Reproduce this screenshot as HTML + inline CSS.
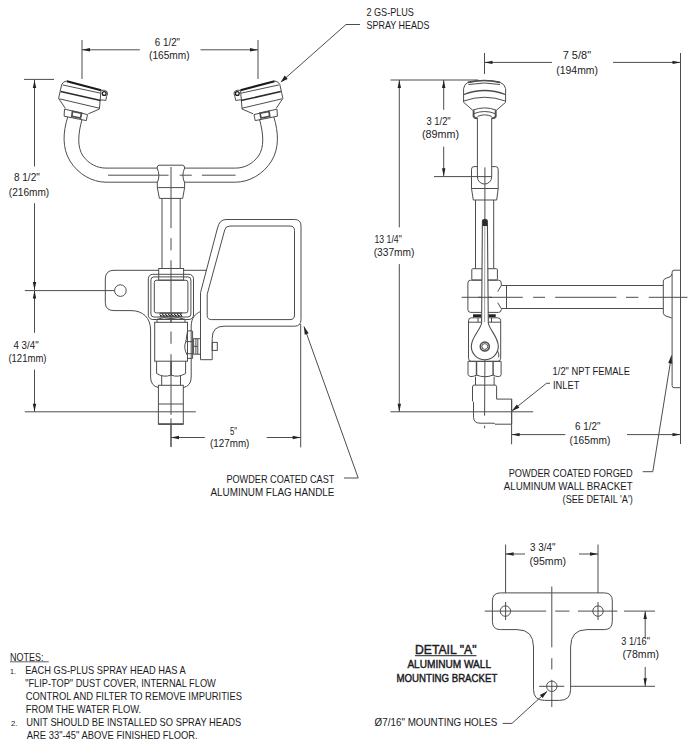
<!DOCTYPE html>
<html><head><meta charset="utf-8"><style>
html,body{margin:0;padding:0;background:#fff;}
svg{display:block;font-family:"Liberation Sans",sans-serif;}
</style></head><body>
<svg width="694" height="747" viewBox="0 0 694 747">
<path d="M82,40 L82,79" fill="none" stroke="#4d4d4d" stroke-width="1.0" />
<path d="M258,40 L258,79" fill="none" stroke="#4d4d4d" stroke-width="1.0" />
<path d="M82,49.8 L139.8,49.8" fill="none" stroke="#4d4d4d" stroke-width="1.0" />
<path d="M200.5,49.8 L258,49.8" fill="none" stroke="#4d4d4d" stroke-width="1.0" />
<polygon points="82,49.8 90.00,48.10 90.00,51.50" fill="#222"/>
<polygon points="258,49.8 250.00,51.50 250.00,48.10" fill="#222"/>
<text x="154.8" y="45.6" textLength="25.3" lengthAdjust="spacingAndGlyphs" font-size="10.5" font-weight="normal" fill="#1b1b24">6 1/2&quot;</text>
<text x="149" y="59.4" textLength="40.7" lengthAdjust="spacingAndGlyphs" font-size="10.5" font-weight="normal" fill="#1b1b24">(165mm)</text>
<path d="M281,82 L346,24.5 L360,24.5" fill="none" stroke="#4d4d4d" stroke-width="1.0" />
<polygon points="280.6,82.2 284.76,75.58 287.68,78.88" fill="#222"/>
<text x="366.5" y="15.6" textLength="47.4" lengthAdjust="spacingAndGlyphs" font-size="10.5" font-weight="normal" fill="#1b1b24">2 GS-PLUS</text>
<text x="366.5" y="28.5" textLength="63.0" lengthAdjust="spacingAndGlyphs" font-size="10.5" font-weight="normal" fill="#1b1b24">SPRAY HEADS</text>
<path d="M24,79.4 L54,79.4" fill="none" stroke="#4d4d4d" stroke-width="1.0" />
<path d="M34.5,80 L34.5,166.5" fill="none" stroke="#4d4d4d" stroke-width="1.0" />
<path d="M34.5,203.2 L34.5,290" fill="none" stroke="#4d4d4d" stroke-width="1.0" />
<polygon points="34.5,80 36.20,88.00 32.80,88.00" fill="#222"/>
<polygon points="34.5,290 32.80,282.00 36.20,282.00" fill="#222"/>
<text x="13.9" y="180.5" textLength="25.9" lengthAdjust="spacingAndGlyphs" font-size="10.5" font-weight="normal" fill="#1b1b24">8 1/2&quot;</text>
<text x="8.8" y="195.6" textLength="40.4" lengthAdjust="spacingAndGlyphs" font-size="10.5" font-weight="normal" fill="#1b1b24">(216mm)</text>
<path d="M24.8,290.6 L114.6,290.6" fill="none" stroke="#4d4d4d" stroke-width="1.0" />
<path d="M34.5,290.6 L34.5,332.8" fill="none" stroke="#4d4d4d" stroke-width="1.0" />
<path d="M34.5,369.6 L34.5,411.8" fill="none" stroke="#4d4d4d" stroke-width="1.0" />
<polygon points="34.5,290.6 36.20,298.60 32.80,298.60" fill="#222"/>
<polygon points="34.5,411.8 32.80,403.80 36.20,403.80" fill="#222"/>
<path d="M24.8,411.8 L195.8,411.8" fill="none" stroke="#4d4d4d" stroke-width="1.0" />
<text x="13.5" y="349" textLength="25.1" lengthAdjust="spacingAndGlyphs" font-size="10.5" font-weight="normal" fill="#1b1b24">4 3/4&quot;</text>
<text x="8.4" y="362.4" textLength="38.1" lengthAdjust="spacingAndGlyphs" font-size="10.5" font-weight="normal" fill="#1b1b24">(121mm)</text>
<path d="M171,424 L171,446.7" fill="none" stroke="#4d4d4d" stroke-width="1.0" />
<path d="M300.7,324 L300.7,447.4" fill="none" stroke="#4d4d4d" stroke-width="1.0" />
<path d="M171,437.5 L204.8,437.5" fill="none" stroke="#4d4d4d" stroke-width="1.0" />
<path d="M266.7,437.5 L300.7,437.5" fill="none" stroke="#4d4d4d" stroke-width="1.0" />
<polygon points="171,437.5 179.00,435.80 179.00,439.20" fill="#222"/>
<polygon points="300.7,437.5 292.70,439.20 292.70,435.80" fill="#222"/>
<text x="230.1" y="435" textLength="7.0" lengthAdjust="spacingAndGlyphs" font-size="10.5" font-weight="normal" fill="#1b1b24">5&quot;</text>
<text x="210" y="446.7" textLength="39.4" lengthAdjust="spacingAndGlyphs" font-size="10.5" font-weight="normal" fill="#1b1b24">(127mm)</text>
<path d="M304,326.5 L358.2,478 L344,478" fill="none" stroke="#4d4d4d" stroke-width="1.0" />
<polygon points="304,326.5 308.67,333.33 304.72,334.74" fill="#222"/>
<text x="226.4" y="482.7" textLength="108.0" lengthAdjust="spacingAndGlyphs" font-size="10.5" font-weight="normal" fill="#1b1b24">POWDER COATED CAST</text>
<text x="210.5" y="496" textLength="123.9" lengthAdjust="spacingAndGlyphs" font-size="10.5" font-weight="normal" fill="#1b1b24">ALUMINUM FLAG HANDLE</text>
<g><path d="M66.9,81.2 L101,90.3" fill="none" stroke="#1a1a1a" stroke-width="2.1"/><path d="M66.9,80.9 Q63,81.5 61.7,84.5 L58.6,98.4 L65.3,108.3" fill="none" stroke="#4d4d4d" stroke-width="1.0"/><path d="M101,90.1 L99.4,109.1 L88.3,113.8" fill="none" stroke="#4d4d4d" stroke-width="1.0"/><path d="M62.5,84.9 L100.6,93.2" fill="none" stroke="#4d4d4d" stroke-width="1.0"/><path d="M60.7,91.5 L100.6,100.6" fill="none" stroke="#2a2a2a" stroke-width="1.5"/><path d="M59.4,98.8 L99.8,108.3" fill="none" stroke="#4d4d4d" stroke-width="1.0"/><path d="M64.5,109.1 L87.5,114.6 L86.3,120.6 L64.1,116.2 Z" fill="none" stroke="#4d4d4d" stroke-width="1.0"/><path d="M72.5,111.3 L81.5,113.2 L80.5,118 L71.8,116.3 Z" fill="none" stroke="#4d4d4d" stroke-width="1.7"/><path d="M100.8,90.3 Q105,89.6 107,91.6 Q108.2,93.8 106.6,96.5 L105.8,100.4 L100.8,99.8" fill="none" stroke="#4d4d4d" stroke-width="1.0"/><circle cx="104.2" cy="93.5" r="1.9" fill="none" stroke="#1a1a1a" stroke-width="1.3"/><path d="M67.7,117 C63,132 62,148 70,161 C78,174 92,182.2 106,182.2 L157.5,182.2" fill="none" stroke="#4d4d4d" stroke-width="1.0"/><path d="M82,119.4 C78,134 77,147 83,156 C89,164 97,168.1 106,168.1 L157.5,168.1" fill="none" stroke="#4d4d4d" stroke-width="1.0"/></g>
<g transform="translate(341.5,0) scale(-1,1)"><path d="M66.9,81.2 L101,90.3" fill="none" stroke="#1a1a1a" stroke-width="2.1"/><path d="M66.9,80.9 Q63,81.5 61.7,84.5 L58.6,98.4 L65.3,108.3" fill="none" stroke="#4d4d4d" stroke-width="1.0"/><path d="M101,90.1 L99.4,109.1 L88.3,113.8" fill="none" stroke="#4d4d4d" stroke-width="1.0"/><path d="M62.5,84.9 L100.6,93.2" fill="none" stroke="#4d4d4d" stroke-width="1.0"/><path d="M60.7,91.5 L100.6,100.6" fill="none" stroke="#2a2a2a" stroke-width="1.5"/><path d="M59.4,98.8 L99.8,108.3" fill="none" stroke="#4d4d4d" stroke-width="1.0"/><path d="M64.5,109.1 L87.5,114.6 L86.3,120.6 L64.1,116.2 Z" fill="none" stroke="#4d4d4d" stroke-width="1.0"/><path d="M72.5,111.3 L81.5,113.2 L80.5,118 L71.8,116.3 Z" fill="none" stroke="#4d4d4d" stroke-width="1.7"/><path d="M100.8,90.3 Q105,89.6 107,91.6 Q108.2,93.8 106.6,96.5 L105.8,100.4 L100.8,99.8" fill="none" stroke="#4d4d4d" stroke-width="1.0"/><circle cx="104.2" cy="93.5" r="1.9" fill="none" stroke="#1a1a1a" stroke-width="1.3"/><path d="M67.7,117 C63,132 62,148 70,161 C78,174 92,182.2 106,182.2 L157.5,182.2" fill="none" stroke="#4d4d4d" stroke-width="1.0"/><path d="M82,119.4 C78,134 77,147 83,156 C89,164 97,168.1 106,168.1 L157.5,168.1" fill="none" stroke="#4d4d4d" stroke-width="1.0"/></g>
<path d="M159,165.2 H182.8 Q184.6,165.2 184.6,168.1 Q181.2,175.3 184.6,182.7 V187.6 L182.7,198.4 H159.4 L157.3,187.6 V182.7 Q160.6,175.3 157.1,168.1 Q157.1,165.2 159,165.2 Z" fill="none" stroke="#4d4d4d" stroke-width="1.0" />
<path d="M157.3,187.6 L184.6,187.6" fill="none" stroke="#4d4d4d" stroke-width="1.0" />
<path d="M108,175.2 L168.6,175.2" fill="none" stroke="#4d4d4d" stroke-width="1.0" />
<path d="M179.7,175.2 L191.8,175.2" fill="none" stroke="#4d4d4d" stroke-width="1.0" />
<path d="M201.9,175.2 L235.6,175.2" fill="none" stroke="#4d4d4d" stroke-width="1.0" />
<path d="M162,198.4 L162,268.5" fill="none" stroke="#4d4d4d" stroke-width="1.0" />
<path d="M180.2,198.4 L180.2,268.5" fill="none" stroke="#4d4d4d" stroke-width="1.0" />
<path d="M171,167 L171,228.2" fill="none" stroke="#4d4d4d" stroke-width="1.0" />
<path d="M171,238.2 L171,250.3" fill="none" stroke="#4d4d4d" stroke-width="1.0" />
<path d="M171,260.3 L171,322.5" fill="none" stroke="#4d4d4d" stroke-width="1.0" />
<path d="M171,331.5 L171,343.8" fill="none" stroke="#4d4d4d" stroke-width="1.0" />
<path d="M171,354.2 L171,414.8" fill="none" stroke="#4d4d4d" stroke-width="1.0" />
<path d="M171,418.3 L171,447.1" fill="none" stroke="#4d4d4d" stroke-width="1.0" />
<rect x="158.7" y="268.5" width="24.9" height="11.6" rx="0" fill="none" stroke="#4d4d4d" stroke-width="1.0"/>
<path d="M114,270.3 L158.7,270.3" fill="none" stroke="#4d4d4d" stroke-width="1.0" />
<path d="M183.6,270.3 L207,270.3" fill="none" stroke="#4d4d4d" stroke-width="1.0" />
<path d="M114,270.3 Q105.3,270.3 105.3,279 V302.5 Q105.3,310.6 114,310.6 H131 C143,310.6 150.6,318 150.6,330 V377 Q150.6,386 158.6,387.6 M183.3,387.6 Q191.2,386 191.2,377 V326 C191.4,318 195,314 200.5,311.5" fill="none" stroke="#4d4d4d" stroke-width="1.0" />
<circle cx="120.4" cy="290.6" r="5.8" fill="none" stroke="#4d4d4d" stroke-width="1.0"/>
<rect x="148.3" y="274.3" width="45.2" height="45.2" rx="4.5" fill="none" stroke="#4d4d4d" stroke-width="1.0"/>
<rect x="150.9" y="276.9" width="40.0" height="40.1" rx="3" fill="none" stroke="#4d4d4d" stroke-width="1.0"/>
<rect x="154.3" y="280.3" width="33.6" height="32.6" rx="2" fill="none" stroke="#4d4d4d" stroke-width="1.0"/>
<path d="M159.7,313.2 H182.2" fill="none" stroke="#4d4d4d" stroke-width="1.3" />
<path d="M159.7,314.2 L161.2,316.6 L162.7,314.2 L164.2,316.6 L165.7,314.2 L167.2,316.6 L168.7,314.2 L170.2,316.6 L171.7,314.2 L173.2,316.6 L174.7,314.2 L176.2,316.6 L177.7,314.2 L179.2,316.6 L180.7,314.2 L182.2,316.6" fill="none" stroke="#222" stroke-width="1.0" />
<path d="M159.7,316.6 H182.2" fill="none" stroke="#4d4d4d" stroke-width="0.9" />
<path d="M157,322.3 V319.3 Q163.5,316.6 171,318.6 V322.3 M171,318.6 Q178.5,316.6 185,319.3 V322.3" fill="none" stroke="#4d4d4d" stroke-width="1.0" />
<rect x="154.7" y="322.3" width="32.8" height="38.9" rx="0" fill="none" stroke="#4d4d4d" stroke-width="1.0"/>
<path d="M156.6,361.2 V373.5 Q164,378 171,375 Q178,378 185.6,373.5 V361.2" fill="none" stroke="#4d4d4d" stroke-width="1.0" />
<path d="M171.1,361.2 L171.1,375.5" fill="none" stroke="#4d4d4d" stroke-width="1.5" />
<path d="M161.7,376 L161.7,385.3" fill="none" stroke="#4d4d4d" stroke-width="1.0" />
<path d="M180.5,376 L180.5,385.3" fill="none" stroke="#4d4d4d" stroke-width="1.0" />
<rect x="158.4" y="385.3" width="24.9" height="38.8" rx="0" fill="none" stroke="#4d4d4d" stroke-width="1.0"/>
<path d="M158.4,424.1 L183.3,424.1" fill="none" stroke="#4d4d4d" stroke-width="1.5" />
<path d="M158.4,404 L183.3,404" fill="none" stroke="#4d4d4d" stroke-width="1.0" />
<path d="M187.5,331.2 Q190,330.2 192.6,331.2 V358.4 H187.5 V355.5 Q183,348 185.8,341.6 L187.5,331.2" fill="none" stroke="#4d4d4d" stroke-width="1.0" />
<path d="M185.8,341.6 L192.6,341.6" fill="none" stroke="#4d4d4d" stroke-width="1.0" />
<path d="M186.5,353.7 L192.6,353.7" fill="none" stroke="#4d4d4d" stroke-width="1.0" />
<rect x="193.6" y="338.7" width="6.9" height="15.5" rx="0" fill="none" stroke="#4d4d4d" stroke-width="1.0"/>
<path d="M195.9,338.7 L195.9,354.2" fill="none" stroke="#4d4d4d" stroke-width="1.0" />
<path d="M197.8,338.7 L197.8,354.2" fill="none" stroke="#4d4d4d" stroke-width="1.0" />
<path d="M193.6,346.3 L197.8,346.3" fill="none" stroke="#4d4d4d" stroke-width="1.0" />
<path d="M226,219.5 H294.5 Q301,219.5 301,226 V319.5 Q301,326.2 294.5,326.2 H224 Q212.2,326.2 212.2,338.3 V359.7 H200.5 V292.7 L217.5,228 Q219.5,219.5 226,219.5 Z" fill="none" stroke="#4d4d4d" stroke-width="1.0" />
<path d="M230,226 H290 Q294.5,226 294.5,230.5 V315 Q294.5,319.6 290,319.6 H211.5 Q207.2,319.6 207.2,315.5 V294.3 L224.7,230 Q225.5,226 230,226 Z" fill="none" stroke="#4d4d4d" stroke-width="1.0" />
<rect x="212.2" y="342.4" width="5.1" height="8.0" rx="0" fill="none" stroke="#4d4d4d" stroke-width="1.0"/>
<path d="M484.5,53 L484.5,74" fill="none" stroke="#4d4d4d" stroke-width="1.0" />
<path d="M680.5,53 L680.5,444" fill="none" stroke="#4d4d4d" stroke-width="1.0" />
<path d="M484.5,62.4 L552,62.4" fill="none" stroke="#4d4d4d" stroke-width="1.0" />
<path d="M613,62.4 L680.5,62.4" fill="none" stroke="#4d4d4d" stroke-width="1.0" />
<polygon points="484.5,62.4 492.50,60.70 492.50,64.10" fill="#222"/>
<polygon points="680.5,62.4 672.50,64.10 672.50,60.70" fill="#222"/>
<text x="562.7" y="58.8" textLength="28.4" lengthAdjust="spacingAndGlyphs" font-size="10.5" font-weight="normal" fill="#1b1b24">7 5/8&quot;</text>
<text x="556.3" y="73.5" textLength="41.7" lengthAdjust="spacingAndGlyphs" font-size="10.5" font-weight="normal" fill="#1b1b24">(194mm)</text>
<path d="M390.5,80 L478.3,80" fill="none" stroke="#4d4d4d" stroke-width="1.0" />
<path d="M390.5,411.8 L533.2,411.8" fill="none" stroke="#4d4d4d" stroke-width="1.0" />
<path d="M399.3,80 L399.3,227.4" fill="none" stroke="#4d4d4d" stroke-width="1.0" />
<path d="M399.3,264.1 L399.3,411.8" fill="none" stroke="#4d4d4d" stroke-width="1.0" />
<polygon points="399.3,80 401.00,88.00 397.60,88.00" fill="#222"/>
<polygon points="399.3,411.8 397.60,403.80 401.00,403.80" fill="#222"/>
<text x="374.4" y="243.2" textLength="27.4" lengthAdjust="spacingAndGlyphs" font-size="10.5" font-weight="normal" fill="#1b1b24">13 1/4&quot;</text>
<text x="373.7" y="256.2" textLength="40.8" lengthAdjust="spacingAndGlyphs" font-size="10.5" font-weight="normal" fill="#1b1b24">(337mm)</text>
<path d="M443.7,80 L443.7,109.8" fill="none" stroke="#4d4d4d" stroke-width="1.0" />
<path d="M443.7,146.7 L443.7,176.3" fill="none" stroke="#4d4d4d" stroke-width="1.0" />
<polygon points="443.7,80 445.40,88.00 442.00,88.00" fill="#222"/>
<polygon points="443.7,176.3 442.00,168.30 445.40,168.30" fill="#222"/>
<path d="M434,176.6 L491.7,176.6" fill="none" stroke="#4d4d4d" stroke-width="1.0" />
<text x="426.5" y="124.8" textLength="24.2" lengthAdjust="spacingAndGlyphs" font-size="10.5" font-weight="normal" fill="#1b1b24">3 1/2&quot;</text>
<text x="421.9" y="138" textLength="37.1" lengthAdjust="spacingAndGlyphs" font-size="10.5" font-weight="normal" fill="#1b1b24">(89mm)</text>
<path d="M511.6,398.9 L511.6,444.3" fill="none" stroke="#4d4d4d" stroke-width="1.0" />
<path d="M511.6,434.6 L565.3,434.6" fill="none" stroke="#4d4d4d" stroke-width="1.0" />
<path d="M627,434.6 L680.5,434.6" fill="none" stroke="#4d4d4d" stroke-width="1.0" />
<polygon points="511.6,434.6 519.60,432.90 519.60,436.30" fill="#222"/>
<polygon points="680.5,434.6 672.50,436.30 672.50,432.90" fill="#222"/>
<text x="575.1" y="429.9" textLength="25.3" lengthAdjust="spacingAndGlyphs" font-size="10.5" font-weight="normal" fill="#1b1b24">6 1/2&quot;</text>
<text x="569.5" y="444" textLength="40.8" lengthAdjust="spacingAndGlyphs" font-size="10.5" font-weight="normal" fill="#1b1b24">(165mm)</text>
<path d="M511.8,411 L546.5,383.3 L550,383.3" fill="none" stroke="#4d4d4d" stroke-width="1.0" />
<polygon points="511.8,411 516.86,404.45 519.42,407.78" fill="#222"/>
<text x="552.6" y="374.5" textLength="77.4" lengthAdjust="spacingAndGlyphs" font-size="10.5" font-weight="normal" fill="#1b1b24">1/2&quot; NPT FEMALE</text>
<text x="553" y="388.6" textLength="26.3" lengthAdjust="spacingAndGlyphs" font-size="10.5" font-weight="normal" fill="#1b1b24">INLET</text>
<path d="M671.5,355.4 L652.8,471.7 L642.7,471.7" fill="none" stroke="#4d4d4d" stroke-width="1.0" />
<polygon points="671.5,355.4 672.30,363.63 668.16,362.97" fill="#222"/>
<text x="508.7" y="476.9" textLength="124.0" lengthAdjust="spacingAndGlyphs" font-size="10.5" font-weight="normal" fill="#1b1b24">POWDER COATED FORGED</text>
<text x="503.8" y="489.6" textLength="128.9" lengthAdjust="spacingAndGlyphs" font-size="10.5" font-weight="normal" fill="#1b1b24">ALUMINUM WALL BRACKET</text>
<text x="562.6" y="502.8" textLength="70.1" lengthAdjust="spacingAndGlyphs" font-size="10.5" font-weight="normal" fill="#1b1b24">(SEE DETAIL 'A')</text>
<path d="M468,82.4 Q484.5,78.6 500,82.4 Q504.8,84 505.6,88.5 V102.3 L496.5,110.2 Q484.6,105.6 472.7,110.2 L463.6,102.3 V88.5 Q464.4,84 468,82.4 Z" fill="none" stroke="#4d4d4d" stroke-width="1.0" />
<path d="M468,82.4 Q484.5,78.6 500,82.4" fill="none" stroke="#4d4d4d" stroke-width="1.6" />
<path d="M468.5,84.5 Q484.5,81.5 500,84.5" fill="none" stroke="#4d4d4d" stroke-width="1.0" />
<path d="M463.8,94.5 Q484.5,86.5 505.4,94.5" fill="none" stroke="#4d4d4d" stroke-width="1.3" />
<path d="M463.8,101 Q484.5,93.5 505.4,101" fill="none" stroke="#4d4d4d" stroke-width="1.0" />
<path d="M473.6,110.2 V116.5 Q474.5,118.3 477.4,118.3 M491.8,118.3 Q494.8,118.3 495.7,116.5 V110.2" fill="none" stroke="#4d4d4d" stroke-width="1.9" />
<path d="M474,113.6 Q484.6,109.4 495.2,113.6" fill="none" stroke="#4d4d4d" stroke-width="1.0" />
<path d="M477.4,116.5 Q484.6,113.2 491.8,116.5" fill="none" stroke="#4d4d4d" stroke-width="1.0" />
<path d="M477.4,117.8 V176.9 A7.15,7.15 0 0 0 491.7,176.9 V117.8" fill="none" stroke="#4d4d4d" stroke-width="1.0" />
<path d="M484.9,167.4 L484.9,219" fill="none" stroke="#4d4d4d" stroke-width="1.0" />
<path d="M484.9,322 L484.9,333" fill="none" stroke="#4d4d4d" stroke-width="1.0" />
<path d="M484.9,360 L484.6,415.7" fill="none" stroke="#4d4d4d" stroke-width="1.0" />
<path d="M484.6,425.7 L484.6,428.2" fill="none" stroke="#4d4d4d" stroke-width="1.0" />
<path d="M477.4,166.6 H474 Q471.5,166.6 471.5,169.3 V188.5 L473.3,200 H496.7 L498.2,188.5 V169.3 Q498.2,166.6 495.5,166.6 H491.7" fill="none" stroke="#4d4d4d" stroke-width="1.0" />
<path d="M471.5,188.5 L498.2,188.5" fill="none" stroke="#4d4d4d" stroke-width="1.0" />
<path d="M475.5,200 L475.5,268.5" fill="none" stroke="#4d4d4d" stroke-width="1.0" />
<path d="M493.7,200 L493.7,268.5" fill="none" stroke="#4d4d4d" stroke-width="1.0" />
<rect x="471.8" y="268.7" width="25.6" height="11.3" rx="1" fill="none" stroke="#4d4d4d" stroke-width="1.0"/>
<path d="M497.7,291.7 L501.3,285.5 V283 Q501.3,280.2 498.5,280.2 H470.7 Q467.9,280.2 467.9,283 V309.6 Q467.9,312.4 470.7,312.4 H498.5 Q501.3,312.4 501.3,309.6 V308.5 L497.7,302.7" fill="none" stroke="#4d4d4d" stroke-width="1.0" />
<rect x="473" y="314.3" width="8" height="2.8" fill="#222"/><rect x="488.3" y="314.3" width="7.4" height="2.8" fill="#222"/>
<path d="M501.3,285.5 L663.3,285.5" fill="none" stroke="#4d4d4d" stroke-width="1.0" />
<path d="M501.3,308.5 L663.3,308.5" fill="none" stroke="#4d4d4d" stroke-width="1.0" />
<path d="M506.5,285.5 L506.5,308.5" fill="none" stroke="#4d4d4d" stroke-width="1.0" />
<path d="M663.3,280.9 L663.3,313.4" fill="none" stroke="#4d4d4d" stroke-width="1.0" />
<path d="M663.3,280.9 Q663.8,279 666,278.3 L670,276.8 Q671.7,276 671.7,274" fill="none" stroke="#4d4d4d" stroke-width="1.0" />
<path d="M663.3,313.4 Q663.8,315.3 666,316 L671.7,318" fill="none" stroke="#4d4d4d" stroke-width="1.0" />
<path d="M674.1,270.2 H680.5 V387.7 H674.1 Q672.1,387.7 672.1,385.7 V272.2 Q672.1,270.2 674.1,270.2 Z" fill="none" stroke="#4d4d4d" stroke-width="1.0" />
<path d="M461.7,297.3 L522.8,297.3" fill="none" stroke="#4d4d4d" stroke-width="1.0" />
<path d="M533.1,297.3 L545,297.3" fill="none" stroke="#4d4d4d" stroke-width="1.0" />
<path d="M555.2,297.3 L616.4,297.3" fill="none" stroke="#4d4d4d" stroke-width="1.0" />
<path d="M626,297.3 L638.4,297.3" fill="none" stroke="#4d4d4d" stroke-width="1.0" />
<path d="M648.7,297.3 L687.5,297.3" fill="none" stroke="#4d4d4d" stroke-width="1.0" />
<rect x="468.5" y="317.8" width="32.2" height="43.5" rx="3" fill="none" stroke="#4d4d4d" stroke-width="1.0"/>
<path d="M468.5,322.2 L481.6,322.2" fill="none" stroke="#4d4d4d" stroke-width="1.0" />
<path d="M488.3,322.2 L500.7,322.2" fill="none" stroke="#4d4d4d" stroke-width="1.0" />
<path d="M478,317.8 L478,322.2" fill="none" stroke="#4d4d4d" stroke-width="1.0" />
<path d="M491.5,317.8 L491.5,322.2" fill="none" stroke="#4d4d4d" stroke-width="1.0" />
<path d="M482.4,221.5 Q482.4,219.3 484.9,219.3 Q487.4,219.3 487.4,221.5 L488.3,323 C489.5,330 498.3,337 498.3,346.3 A13.5,13.5 0 0 1 471.3,346.3 C471.3,337 480.5,330 481.6,323 Z" fill="#fff" stroke="#4d4d4d" stroke-width="1.1" />
<path d="M482.5,226 V221.5 Q482.5,219.3 484.9,219.3 Q487.3,219.3 487.3,221.5 V226 Z" fill="#2a2a2a"/>
<path d="M484.8,226 L484.6,322" fill="none" stroke="#888" stroke-width="0.8" />
<path d="M478,297.3 L492,297.3" fill="none" stroke="#4d4d4d" stroke-width="1.0" />
<circle cx="484.8" cy="346.5" r="4.5" fill="none" stroke="#4d4d4d" stroke-width="1.6"/>
<circle cx="484.8" cy="346.5" r="2.9" fill="none" stroke="#4d4d4d" stroke-width="1.0"/>
<path d="M497.4,350.4 Q499.5,354 498.7,357.4" fill="none" stroke="#4d4d4d" stroke-width="1.0" />
<path d="M468,361.4 V374.5 Q469,376.6 471,376.6 Q474,376.6 476.5,375 Q484.8,378.5 493.1,375 Q495.5,376.6 498.5,376.6 Q501.1,376.6 501.1,374.5 V361.4" fill="none" stroke="#4d4d4d" stroke-width="1.0" />
<path d="M476.5,361.4 L476.5,375.5" fill="none" stroke="#4d4d4d" stroke-width="1.4" />
<path d="M493.1,361.4 L493.1,375.5" fill="none" stroke="#4d4d4d" stroke-width="1.4" />
<path d="M468,361.4 L501.1,361.4" fill="none" stroke="#4d4d4d" stroke-width="1.0" />
<path d="M475.5,376.6 L475.5,385.1" fill="none" stroke="#4d4d4d" stroke-width="1.0" />
<path d="M494.1,376.6 L494.1,385.1" fill="none" stroke="#4d4d4d" stroke-width="1.0" />
<path d="M474,385.1 Q472.5,385.1 472.5,387 V401.1 L473.5,402 V417.2 Q473.8,423.2 480,423.2 H494.1 L495,424.2 H511.7 V399.1 H496.6 V386.5 Q496.6,385.1 495,385.1 Z" fill="none" stroke="#4d4d4d" stroke-width="1.0" />
<path d="M500.4,592.9 H604.3 Q612.3,592.9 612.3,600.9 V621.3 Q612.3,629.6 604.3,629.6 H587 Q570.6,629.6 570.6,647 V689.5 Q570.6,700.4 559.5,700.4 H544.5 Q533.5,700.4 533.5,689.5 V647 Q533.5,629.6 517,629.6 H500.4 Q492.4,629.6 492.4,621.3 V600.9 Q492.4,592.9 500.4,592.9 Z" fill="none" stroke="#4d4d4d" stroke-width="1.0" />
<circle cx="505.4" cy="611.1" r="5.2" fill="none" stroke="#4d4d4d" stroke-width="1.0"/>
<circle cx="598" cy="611.1" r="5.2" fill="none" stroke="#4d4d4d" stroke-width="1.0"/>
<circle cx="551.8" cy="686.3" r="5.2" fill="none" stroke="#4d4d4d" stroke-width="1.0"/>
<path d="M484.7,611.1 L546.1,611.1" fill="none" stroke="#4d4d4d" stroke-width="1.0" />
<path d="M555.2,611.1 L569.5,611.1" fill="none" stroke="#4d4d4d" stroke-width="1.0" />
<path d="M578,611.1 L617.4,611.1" fill="none" stroke="#4d4d4d" stroke-width="1.0" />
<path d="M624,611.1 L655,611.1" fill="none" stroke="#4d4d4d" stroke-width="1.0" />
<path d="M551.8,586.5 L551.8,647.3" fill="none" stroke="#4d4d4d" stroke-width="1.0" />
<path d="M551.8,658.2 L551.8,669.5" fill="none" stroke="#4d4d4d" stroke-width="1.0" />
<path d="M551.8,679.8 L551.8,707" fill="none" stroke="#4d4d4d" stroke-width="1.0" />
<path d="M505.6,544.5 L505.6,593" fill="none" stroke="#4d4d4d" stroke-width="1.0" />
<path d="M598,544.5 L598,593" fill="none" stroke="#4d4d4d" stroke-width="1.0" />
<path d="M505.6,602 L505.6,620" fill="none" stroke="#4d4d4d" stroke-width="1.0" />
<path d="M598,602 L598,620" fill="none" stroke="#4d4d4d" stroke-width="1.0" />
<path d="M505.6,554 L525,554" fill="none" stroke="#4d4d4d" stroke-width="1.0" />
<path d="M579,554 L598,554" fill="none" stroke="#4d4d4d" stroke-width="1.0" />
<polygon points="505.6,554 513.60,552.30 513.60,555.70" fill="#222"/>
<polygon points="598,554 590.00,555.70 590.00,552.30" fill="#222"/>
<text x="530" y="551" textLength="25.5" lengthAdjust="spacingAndGlyphs" font-size="10.5" font-weight="normal" fill="#1b1b24">3 3/4&quot;</text>
<text x="529.5" y="564.9" textLength="36.5" lengthAdjust="spacingAndGlyphs" font-size="10.5" font-weight="normal" fill="#1b1b24">(95mm)</text>
<path d="M539.1,686.3 L564.3,686.3" fill="none" stroke="#4d4d4d" stroke-width="1.0" />
<path d="M570.8,686.3 L655,686.3" fill="none" stroke="#4d4d4d" stroke-width="1.0" />
<path d="M645.2,611.1 L645.2,638.4" fill="none" stroke="#4d4d4d" stroke-width="1.0" />
<path d="M645.2,666.9 L645.2,686.3" fill="none" stroke="#4d4d4d" stroke-width="1.0" />
<polygon points="645.2,611.1 646.90,619.10 643.50,619.10" fill="#222"/>
<polygon points="645.2,686.3 643.50,678.30 646.90,678.30" fill="#222"/>
<text x="621.3" y="644.8" textLength="28.6" lengthAdjust="spacingAndGlyphs" font-size="10.5" font-weight="normal" fill="#1b1b24">3 1/16&quot;</text>
<text x="622.6" y="657.8" textLength="36.4" lengthAdjust="spacingAndGlyphs" font-size="10.5" font-weight="normal" fill="#1b1b24">(78mm)</text>
<path d="M547.2,691.2 L512,723.4 L502.6,723.4" fill="none" stroke="#4d4d4d" stroke-width="1.0" />
<polygon points="547.2,691.2 542.67,698.12 539.86,695.00" fill="#222"/>
<text x="374.6" y="725.7" textLength="122.7" lengthAdjust="spacingAndGlyphs" font-size="11" font-weight="normal" fill="#1b1b24">Ø7/16&quot; MOUNTING HOLES</text>
<text x="415" y="653.7" textLength="61.5" lengthAdjust="spacingAndGlyphs" font-size="13" font-weight="normal" fill="#1b1b24" stroke="#1b1b24" stroke-width="0.45">DETAIL &quot;A&quot;</text>
<path d="M415,655.6 L476.5,655.6" fill="none" stroke="#4d4d4d" stroke-width="1.1" />
<text x="407.4" y="668" textLength="83.6" lengthAdjust="spacingAndGlyphs" font-size="11" font-weight="normal" fill="#1b1b24" stroke="#1b1b24" stroke-width="0.45">ALUMINUM WALL</text>
<text x="396.5" y="681.9" textLength="100.8" lengthAdjust="spacingAndGlyphs" font-size="11" font-weight="normal" fill="#1b1b24" stroke="#1b1b24" stroke-width="0.45">MOUNTING BRACKET</text>
<text x="10" y="660.7" textLength="33.4" lengthAdjust="spacingAndGlyphs" font-size="10.8" font-weight="normal" fill="#1b1b24">NOTES:</text>
<path d="M10,661.8 L48.8,661.8" fill="none" stroke="#4d4d4d" stroke-width="0.9" />
<text x="10" y="673.8" textLength="6" lengthAdjust="spacingAndGlyphs" font-size="8" font-weight="normal" fill="#1b1b24">1.</text>
<text x="25.2" y="673.8" textLength="160.4" lengthAdjust="spacingAndGlyphs" font-size="10.8" font-weight="normal" fill="#1b1b24">EACH GS-PLUS SPRAY HEAD HAS A</text>
<text x="25.2" y="686.8" textLength="190.6" lengthAdjust="spacingAndGlyphs" font-size="10.8" font-weight="normal" fill="#1b1b24">&quot;FLIP-TOP&quot; DUST COVER, INTERNAL FLOW</text>
<text x="25.7" y="700" textLength="216.3" lengthAdjust="spacingAndGlyphs" font-size="10.8" font-weight="normal" fill="#1b1b24">CONTROL AND FILTER TO REMOVE IMPURITIES</text>
<text x="25.7" y="712.6" textLength="115.5" lengthAdjust="spacingAndGlyphs" font-size="10.8" font-weight="normal" fill="#1b1b24">FROM THE WATER FLOW.</text>
<text x="11" y="725.7" textLength="6.5" lengthAdjust="spacingAndGlyphs" font-size="8" font-weight="normal" fill="#1b1b24">2.</text>
<text x="26.2" y="725.7" textLength="215.0" lengthAdjust="spacingAndGlyphs" font-size="10.8" font-weight="normal" fill="#1b1b24">UNIT SHOULD BE INSTALLED SO SPRAY HEADS</text>
<text x="26.8" y="738.8" textLength="170.9" lengthAdjust="spacingAndGlyphs" font-size="10.8" font-weight="normal" fill="#1b1b24">ARE 33&quot;-45&quot; ABOVE FINISHED FLOOR.</text>
</svg>
</body></html>
